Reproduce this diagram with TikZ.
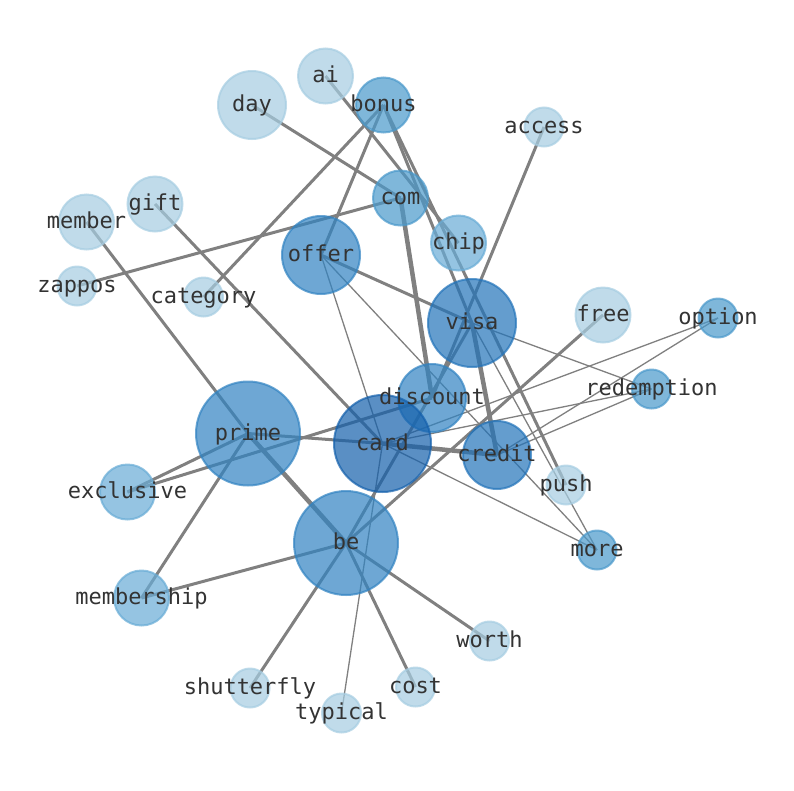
\documentclass[tikz,border=0pt]{standalone}
\usepackage{fontspec}
\setmonofont{DejaVu Sans Mono}
\pgfdeclarelayer{bg}
\pgfdeclarelayer{edges}
\pgfsetlayers{bg,edges,main}
\definecolor{cA}{RGB}{166,205,226}
\definecolor{cB}{RGB}{104,172,214}
\definecolor{cC}{RGB}{74,153,203}
\definecolor{cD}{RGB}{49,131,194}
\definecolor{cE}{RGB}{35,116,186}
\definecolor{cF}{RGB}{20,96,172}
\definecolor{edgegray}{RGB}{128,128,128}
\definecolor{labelgray}{RGB}{51,51,51}
\begin{document}
\begin{tikzpicture}[x=1pt,y=-1pt,
  vtx/.style={circle, inner sep=0pt, fill opacity=0.7, draw opacity=0.7, line width=2pt},
  vA/.style={vtx, fill=cA, draw=cA},
  vB/.style={vtx, fill=cB, draw=cB},
  vC/.style={vtx, fill=cC, draw=cC},
  vD/.style={vtx, fill=cD, draw=cD},
  vE/.style={vtx, fill=cE, draw=cE},
  vF/.style={vtx, fill=cF, draw=cF},
  sz1/.style={minimum size=39pt},
  sz2/.style={minimum size=55pt},
  sz3/.style={minimum size=68pt},
  sz4/.style={minimum size=78pt},
  sz5/.style={minimum size=88pt},
  sz6/.style={minimum size=97pt},
  sz7/.style={minimum size=104pt},
  lbl/.style={font=\ttfamily\fontsize{22}{26}\selectfont, text=labelgray, anchor=base, inner sep=0pt},
  ethin/.style={draw=edgegray, line width=1.3pt},
  emed/.style={draw=edgegray, line width=3pt},
  ethick/.style={draw=edgegray, line width=4.5pt}
]
\useasboundingbox (0,0) rectangle (794,790);
\begin{pgfonlayer}{bg}
\fill[white] (0,0) rectangle (794,790);
\end{pgfonlayer}

% vertices
\node[vA, sz2] (ai) at (325.5,76) {};
\node[vA, sz3] (day) at (252,105) {};
\node[vC, sz2] (bonus) at (383.5,105) {};
\node[vA, sz1] (access) at (544,127) {};
\node[vC, sz2] (com) at (400.5,198) {};
\node[vA, sz2] (gift) at (155,204) {};
\node[vA, sz2] (member) at (86.5,222) {};
\node[vB, sz2] (chip) at (458.5,243) {};
\node[vD, sz4] (offer) at (321,255) {};
\node[vA, sz1] (zappos) at (77,286) {};
\node[vA, sz1] (category) at (203.5,297) {};
\node[vA, sz2] (free) at (603,315) {};
\node[vC, sz1] (option) at (718,318) {};
\node[vE, sz5] (visa) at (472,323) {};
\node[vC, sz1] (redemption) at (651.5,389) {};
\node[vD, sz3] (discount) at (432,398) {};
\node[vD, sz7] (prime) at (248,433.5) {};
\node[vF, sz6] (card) at (382.5,443.5) {};
\node[vE, sz3] (credit) at (497,455) {};
\node[vA, sz1] (push) at (566,485) {};
\node[vB, sz2] (exclusive) at (127.5,492) {};
\node[vD, sz7] (be) at (346,543) {};
\node[vC, sz1] (more) at (597,550) {};
\node[vB, sz2] (membership) at (141.5,598) {};
\node[vA, sz1] (worth) at (489.5,641) {};
\node[vA, sz1] (shutterfly) at (250,688) {};
\node[vA, sz1] (cost) at (415.5,687) {};
\node[vA, sz1] (typical) at (341.5,713) {};

% edges
\begin{pgfonlayer}{edges}
\draw[emed] (day.center) -- (com.center);
\draw[emed] (ai.center) -- (chip.center);
\draw[emed] (bonus.center) -- (offer.center);
\draw[emed] (bonus.center) -- (category.center);
\draw[emed] (bonus.center) -- (visa.center);
\draw[emed] (bonus.center) -- (push.center);
\draw[emed] (com.center) -- (zappos.center);
\draw[ethick] (com.center) -- (discount.center);
\draw[emed] (access.center) -- (discount.center);
\draw[emed] (offer.center) -- (visa.center);
\draw[ethin] (offer.center) -- (card.center);
\draw[ethin] (offer.center) -- (more.center);
\draw[emed] (gift.center) -- (card.center);
\draw[emed] (member.center) -- (prime.center);
\draw[ethick] (prime.center) -- (be.center);
\draw[emed] (prime.center) -- (card.center);
\draw[ethick] (card.center) -- (credit.center);
\draw[emed] (prime.center) -- (exclusive.center);
\draw[emed] (exclusive.center) -- (discount.center);
\draw[emed] (prime.center) -- (membership.center);
\draw[emed] (membership.center) -- (be.center);
\draw[emed] (be.center) -- (shutterfly.center);
\draw[emed] (be.center) -- (cost.center);
\draw[emed] (be.center) -- (worth.center);
\draw[ethin] (typical.center) -- (card.center);
\draw[emed] (free.center) -- (be.center);
\draw[emed] (visa.center) -- (be.center);
\draw[ethick] (visa.center) -- (credit.center);
\draw[ethin] (visa.center) -- (redemption.center);
\draw[ethin] (visa.center) -- (more.center);
\draw[ethin] (card.center) -- (option.center);
\draw[ethin] (card.center) -- (redemption.center);
\draw[ethin] (credit.center) -- (option.center);
\draw[ethin] (credit.center) -- (redemption.center);
\draw[ethin] (card.center) -- (more.center);
\end{pgfonlayer}

% labels
\foreach \n in {ai,day,bonus,access,com,gift,member,chip,offer,zappos,category,free,option,visa,redemption,discount,prime,card,credit,push,exclusive,be,more,membership,worth,shutterfly,cost,typical}
  \node[lbl] (t\n) at ([yshift=-6.5pt]\n.center) {\n};
\end{tikzpicture}
\end{document}
